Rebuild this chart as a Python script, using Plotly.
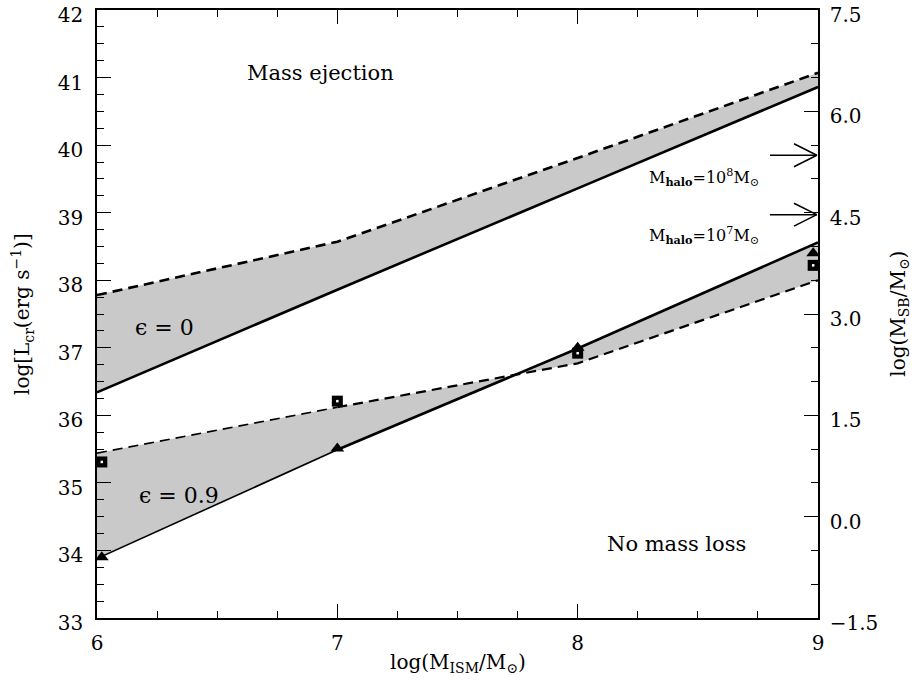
import plotly.graph_objects as go

# ---------------- data ----------------
log_m_ism = [6, 7, 8, 9]
# epsilon = 0 band (upper)
eps0_solid = [36.34, 37.86, 39.36, 40.86]
eps0_dashed = [37.78, 38.57, 39.81, 41.07]
# epsilon = 0.9 band (lower)
eps09_solid = [33.88, 35.49, 36.99, 38.56]
eps09_dashed = [35.44, 36.12, 36.77, 38.00]
# simulation points
marker_x = [6.02, 7, 8, 8.98]
triangle_y = [33.90, 35.51, 37.00, 38.40]
square_y = [35.31, 36.21, 36.92, 38.22]
# halo mass arrows on right axis (log M_SB/Msun)
halo_levels = [5.35, 4.47]
halo_labels = ["M<sub><b>halo</b></sub>=10<sup>8</sup>M<sub>⊙</sub>",
               "M<sub><b>halo</b></sub>=10<sup>7</sup>M<sub>⊙</sub>"]
halo_label_y = [39.52, 38.66]

left_ticks = [33, 34, 35, 36, 37, 38, 39, 40, 41, 42]
right_ticks = [-1.5, 0.0, 1.5, 3.0, 4.5, 6.0, 7.5]
x_ticks = [6, 7, 8, 9]

x_title = "log(M<sub>ISM</sub>/M<sub>⊙</sub>)"
y_title = "log[L<sub>cr</sub>(erg s<sup>−1</sup>)]"
y2_title = "log(M<sub>SB</sub>/M<sub>⊙</sub>)"

FONT = "DejaVu Serif"
GRAY = "#c9c9c9"
DASH = "10px,6px"

fig = go.Figure()

# filled bands
for solid, dashed in [(eps0_solid, eps0_dashed), (eps09_solid, eps09_dashed)]:
    fig.add_trace(go.Scatter(x=log_m_ism, y=solid, mode="lines", line=dict(width=0, color=GRAY),
                             showlegend=False, hoverinfo="skip"))
    fig.add_trace(go.Scatter(x=log_m_ism, y=dashed, mode="lines", line=dict(width=0, color=GRAY),
                             fill="tonexty", fillcolor=GRAY, showlegend=False, hoverinfo="skip"))

# upper band lines
fig.add_trace(go.Scatter(x=log_m_ism, y=eps0_solid, mode="lines",
                         line=dict(color="black", width=2.6), showlegend=False))
fig.add_trace(go.Scatter(x=log_m_ism, y=eps0_dashed, mode="lines",
                         line=dict(color="black", width=2.6, dash=DASH), showlegend=False))
# lower band lines (thinner first segment)
fig.add_trace(go.Scatter(x=log_m_ism[:2], y=eps09_solid[:2], mode="lines",
                         line=dict(color="black", width=1.6), showlegend=False))
fig.add_trace(go.Scatter(x=log_m_ism[1:], y=eps09_solid[1:], mode="lines",
                         line=dict(color="black", width=2.6), showlegend=False))
fig.add_trace(go.Scatter(x=log_m_ism[:2], y=eps09_dashed[:2], mode="lines",
                         line=dict(color="black", width=1.6, dash=DASH), showlegend=False))
fig.add_trace(go.Scatter(x=log_m_ism[1:], y=eps09_dashed[1:], mode="lines",
                         line=dict(color="black", width=2.2, dash=DASH), showlegend=False))

# markers
fig.add_trace(go.Scatter(x=marker_x, y=square_y, mode="markers",
                         marker=dict(symbol="square", size=11, color="black"), showlegend=False))
fig.add_trace(go.Scatter(x=marker_x, y=square_y, mode="markers",
                         marker=dict(symbol="square", size=2.5, color="white"), showlegend=False))
fig.add_trace(go.Scatter(x=marker_x, y=triangle_y, mode="markers",
                         marker=dict(symbol="triangle-up", size=12, color="black"), showlegend=False))

# halo arrows (on right axis)
x_tail, x_tip, head_dx, head_dy = 8.80, 8.995, 0.095, 0.17
for lvl in halo_levels:
    fig.add_trace(go.Scatter(x=[x_tail, x_tip], y=[lvl, lvl], yaxis="y2", mode="lines",
                             line=dict(color="black", width=1.5), showlegend=False, cliponaxis=False))
    fig.add_trace(go.Scatter(x=[x_tip - head_dx, x_tip, x_tip - head_dx],
                             y=[lvl + head_dy, lvl, lvl - head_dy], yaxis="y2", mode="lines",
                             line=dict(color="black", width=1.5), showlegend=False, cliponaxis=False))

tf = dict(family=FONT, size=20, color="black")
annotations = [
    dict(x=6.93, y=41.07, text="Mass ejection", font=dict(family=FONT, size=21, color="black")),
    dict(x=8.41, y=34.09, text="No mass loss", font=dict(family=FONT, size=21, color="black")),
    dict(x=6.28, y=37.30, text="ϵ = 0", font=dict(family=FONT, size=22, color="black")),
    dict(x=6.34, y=34.82, text="ϵ = 0.9", font=dict(family=FONT, size=22, color="black")),
    # axis titles
    dict(xref="paper", yref="paper", x=0.5, y=-0.074, text=x_title, font=tf),
    dict(xref="paper", yref="paper", x=-0.104, y=0.5, text=y_title, textangle=-90, font=tf),
    dict(xref="paper", yref="paper", x=1.112, y=0.5, text=y2_title, textangle=-90, font=tf),
]
for txt, yy in zip(halo_labels, halo_label_y):
    annotations.append(dict(x=8.287, y=yy, text=txt, xanchor="left",
                            font=dict(family=FONT, size=16, color="black")))
for a in annotations:
    a.setdefault("xref", "x")
    a.setdefault("yref", "y")
    a.setdefault("showarrow", False)
    a.setdefault("xanchor", "center")
    a.setdefault("yanchor", "middle")
    a.setdefault("font", dict(family=FONT, size=20, color="black"))

axis_common = dict(showgrid=False, zeroline=False, showline=True, linecolor="black", linewidth=1.5,
                   ticks="inside", ticklen=14, tickwidth=1.2, tickcolor="black", automargin=False,
                   ticklabeloverflow="allow",
                   tickfont=dict(family=FONT, size=20, color="black"))

fig.update_layout(
    width=921, height=680, autosize=False,
    margin=dict(l=97, r=103, t=10, b=62),
    paper_bgcolor="white", plot_bgcolor="white",
    font=dict(family=FONT, color="black"),
    showlegend=False,
    xaxis=dict(range=[6, 9], tickvals=x_ticks, mirror="ticks",
               minor=dict(dtick=0.25, ticklen=7, tickwidth=1.2, tickcolor="black", ticks="inside"),
               ticklabelstandoff=6, **axis_common),
    yaxis=dict(range=[33, 42], tickvals=left_ticks,
               minor=dict(dtick=0.25, ticklen=7, tickwidth=1.2, tickcolor="black", ticks="inside"),
               ticklabelstandoff=8, ticklabelshift=5, **axis_common),
    yaxis2=dict(range=[-1.5, 7.5], tickvals=right_ticks, tickformat=".1f", overlaying="y", side="right",
                minor=dict(dtick=0.5, ticklen=7, tickwidth=1.2, tickcolor="black", ticks="inside"),
                ticklabelstandoff=6, ticklabelshift=5, **axis_common),
    annotations=annotations,
)

fig.write_html("out.html", config={"displayModeBar": False},
               post_script="document.body.style.margin='0px';document.body.style.padding='0px';")
